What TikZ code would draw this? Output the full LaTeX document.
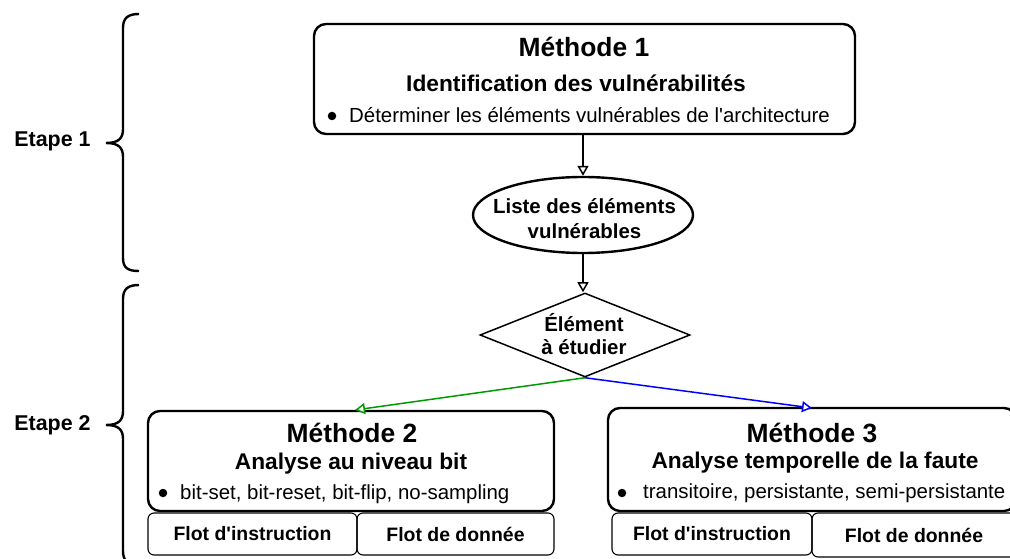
\documentclass[tikz,border=0pt]{standalone}
\usepackage{fontspec}
\setmainfont{Liberation Sans}[Ligatures=TeXOff]
\usetikzlibrary{shapes.geometric,arrows.meta}

\tikzset{
  mbox/.style={draw, line width=2.4bp, rounded corners=12bp, inner sep=0pt},
  fbox/.style={draw, line width=1.1bp, rounded corners=6bp, inner sep=0pt,
    font=\bfseries\fontsize{19.5}{22}\selectfont},
  ttl/.style={anchor=base, inner sep=0pt, font=\bfseries\fontsize{26.5}{30}\selectfont},
  sub/.style={anchor=base, inner sep=0pt, font=\bfseries\fontsize{22.8}{26}\selectfont},
  itm/.style={anchor=base west, inner sep=0pt, font=\fontsize{20.5}{24}\selectfont},
  lbl/.style={anchor=base, inner sep=0pt, font=\bfseries\fontsize{20.5}{24}\selectfont},
  dot/.style={circle, fill, inner sep=0pt, minimum size=8.5bp},
  arr/.style={line width=1.5bp, -{Triangle[open, fill=white, width=11bp, length=10bp]}},
  brc/.style={line width=2.4bp},
}

\begin{document}
\begin{tikzpicture}[x=1bp, y=-1bp]
\useasboundingbox (0,0) rectangle (1010,559);

% --- Step 1 -------------------------------------------------------------
\node[mbox, minimum width=541bp, minimum height=110bp] (m1) at (584.5,79) {};
\node[ttl] (m1t) at (584,57) {Méthode 1};
\node[sub] (m1s) at (576,92) {Identification des vulnérabilités};
\node[dot] (m1d) at (332,116) {};
\node[itm] (m1i) at (349,123) {Déterminer les éléments vulnérables de l'architecture};

\node[draw, ellipse, line width=2.4bp, minimum width=220bp, minimum height=76bp,
      inner sep=0pt] (liste) at (583,215) {};
\node[lbl] (l1) at (584.5,214) {Liste des éléments};
\node[lbl] (l2) at (584.5,239) {vulnérables};

% --- Step 2 -------------------------------------------------------------
\node[draw, diamond, line width=1.5bp, minimum width=210bp, minimum height=84bp,
      inner sep=0pt, aspect=2.5] (elem) at (585,335) {};
\node[lbl] (e1) at (584,332) {Élément};
\node[lbl] (e2) at (584,355) {à étudier};

% Method 2
\node[mbox, minimum width=406bp, minimum height=100bp] (m2) at (351,461) {};
\node[ttl] (m2t) at (352,442) {Méthode 2};
\node[sub] (m2s) at (351,469) {Analyse au niveau bit};
\node[dot] (m2d) at (163,493) {};
\node[itm] (m2i) at (180,499) {bit-set, bit-reset, bit-flip, no-sampling};
\node[fbox, minimum width=209bp, minimum height=42bp] (m2a) at (252.5,534) {Flot d'instruction};
\node[fbox, minimum width=197bp, minimum height=42bp] (m2b) at (455.5,534) {Flot de donnée};

% Method 3
\node[mbox, minimum width=408bp, minimum height=103bp] (m3) at (812,459.5) {};
\node[ttl] (m3t) at (812,442) {Méthode 3};
\node[sub] (m3s) at (815,468) {Analyse temporelle de la faute};
\node[dot] (m3d) at (622,493) {};
\node[itm] (m3i) at (643,498) {transitoire, persistante, semi-persistante};
\node[fbox, minimum width=200bp, minimum height=42bp] (m3a) at (712,534) {Flot d'instruction};
\node[fbox, minimum width=204bp, minimum height=44bp] (m3b) at (914,535) {Flot de donnée};

% --- connectors ---------------------------------------------------------
\coordinate (m1o) at (m1.south -| liste.north);
\coordinate (m2in) at (355,410);
\coordinate (m3in) at (812,408);
\draw[arr] (m1o) -- (liste.north);
\draw[arr] (liste.south) -- (elem.north -| liste.south);
\draw[arr, draw={rgb,255:red,0;green,153;blue,0}] (elem.south) -- (m2in);
\draw[arr, draw={rgb,255:red,0;green,0;blue,255}] (elem.south) -- (m3in);

% --- step braces and labels ----------------------------------------------
\node[lbl, font=\bfseries\fontsize{21.5}{24}\selectfont] (s1) at (52.5,147) {Etape 1};
\node[lbl, font=\bfseries\fontsize{21.5}{24}\selectfont] (s2) at (52.5,430) {Etape 2};

\draw[brc] (139,14) .. controls (128,14) and (123,18) .. (123,28) -- (123,129)
  .. controls (123,138) and (119,143) .. (106,143)
  .. controls (119,143) and (123,148) .. (123,157) -- (123,258)
  .. controls (123,268) and (128,271) .. (139,271);
\draw[brc] (139,285) .. controls (128,285) and (123,289) .. (123,299) -- (123,411)
  .. controls (123,420) and (119,425) .. (106,425)
  .. controls (119,425) and (123,430) .. (123,439) -- (123,551)
  .. controls (123,561) and (128,565) .. (139,565);
\end{tikzpicture}
\end{document}
